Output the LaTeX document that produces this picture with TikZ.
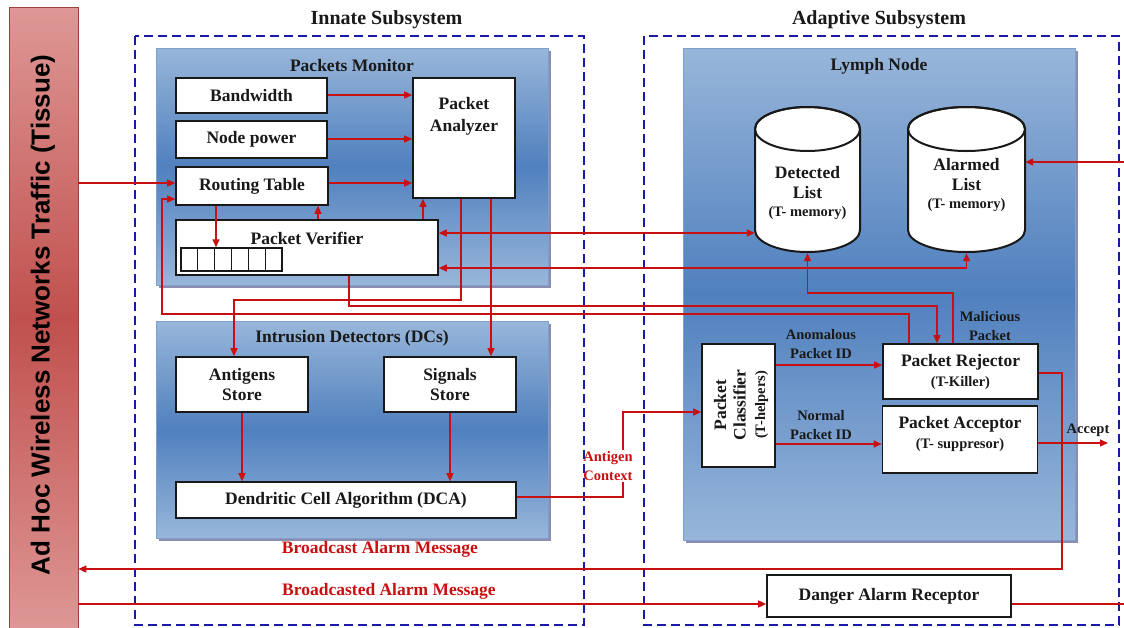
\documentclass[tikz,border=0pt]{standalone}
\usepackage{fontspec}
\setmainfont{Liberation Serif}
\newfontfamily\barfont{Liberation Sans}
\usetikzlibrary{arrows.meta,shadows}
\definecolor{ared}{RGB}{200,16,16}
\definecolor{pl}{RGB}{152,182,218}
\definecolor{pd}{RGB}{80,128,190}
\definecolor{pborder}{RGB}{125,160,205}
\definecolor{dblue}{RGB}{25,25,170}
\definecolor{bl}{RGB}{222,152,150}
\definecolor{bd}{RGB}{192,80,77}
\definecolor{bk}{RGB}{25,25,25}
\newcommand\fsb{\fontsize{17.5}{20}\selectfont\bfseries}
\newcommand\fss{\fontsize{14.5}{19}\selectfont\bfseries}
\newcommand\fst{\fontsize{20}{24}\selectfont\bfseries}
\begin{document}
\begin{tikzpicture}[x=1pt, y=-1pt,
  box/.style={draw=bk, line width=1.6pt, fill=white, inner sep=0pt, align=center, font=\fsb, text=bk},
  txt/.style={inner sep=0pt, align=center, font=\fsb, text=bk},
  small/.style={inner sep=0pt, align=center, font=\fss, text=bk},
  rlab/.style={inner sep=1pt, align=center, text=ared},
  panel/.style={draw=pborder, line width=1pt, top color=pl, bottom color=pl, middle color=pd, inner sep=0pt,
    drop shadow={shadow xshift=2.5pt, shadow yshift=-2.5pt, fill=black!70!blue, opacity=0.45}},
  dashbox/.style={draw=dblue, line width=1.8pt, dash pattern=on 9pt off 5pt},
  wire/.style={draw=ared, line width=1.4pt},
  arr/.style={wire, -{Triangle[length=8pt,width=7pt]}},
  arrb/.style={wire, {Triangle[length=8pt,width=7pt]}-{Triangle[length=8pt,width=7pt]}},
  cylbody/.style={draw=bk, line width=2pt, fill=white}
  ]
\useasboundingbox (0,0) rectangle (1124,627);

% traffic bar
\node[draw=bd!80!black, line width=0.6pt, top color=bl, bottom color=bl, middle color=bd, inner sep=0pt,
  minimum width=69pt, minimum height=625pt] (bar) at (43.5,319.5) {};
\node[rotate=90, inner sep=0pt, font=\fontsize{26}{30}\selectfont\barfont\bfseries, text=black] (bartext) at (43,315) {Ad Hoc Wireless Networks Traffic (Tissue)};

% subsystems
\draw[dashbox] (135,36) rectangle (584,625);
\draw[dashbox] (644,36) rectangle (1119,625);
\node[inner sep=0pt, font=\fst, text=bk] (innate) at (386.5,20) {Innate Subsystem};
\node[inner sep=0pt, font=\fst, text=bk] (adaptive) at (879,20) {Adaptive Subsystem};

% panels
\node[panel, minimum width=392pt, minimum height=237pt] (pm) at (352,166.5) {};
\node[txt] (pmt) at (352,66) {Packets Monitor};
\node[panel, minimum width=392pt, minimum height=217pt] (idp) at (352,429.5) {};
\node[txt] (idpt) at (352,338) {Intrusion Detectors (DCs)};
\node[panel, minimum width=392pt, minimum height=492pt] (ln) at (879,294) {};
\node[txt] (lnt) at (879,66) {Lymph Node};

% packets monitor boxes
\node[box, minimum width=151pt, minimum height=35pt] (bw) at (251.5,95.5) {Bandwidth};
\node[box, minimum width=151pt, minimum height=37pt] (np) at (251.5,139.5) {Node power};
\node[box, minimum width=152pt, minimum height=38pt] (rt) at (252,186) {Routing Table};
\node[box, minimum width=102pt, minimum height=120pt] (pa) at (464,138) {};
\node[txt, font=\fontsize{17.5}{22}\selectfont\bfseries] (pat) at (464,116) {Packet\\Analyzer};
\node[box, minimum width=262pt, minimum height=55pt] (pv) at (307,247.5) {};
\node[txt] (pvt) at (307,238) {Packet Verifier};
\node[draw=bk, line width=1.5pt, fill=white, inner sep=0pt, minimum width=101pt, minimum height=23pt] (q) at (231.5,259.5) {};
\foreach \i in {1,...,5} \draw[bk, line width=1.3pt] ({181+\i*16.83},248) -- ++(0,23);

% intrusion detectors boxes
\node[box, minimum width=132pt, minimum height=55pt] (as) at (242,384.5) {Antigens\\Store};
\node[box, minimum width=132pt, minimum height=55pt] (ss) at (450,384.5) {Signals\\Store};
\node[box, minimum width=340pt, minimum height=36pt] (dca) at (346,500) {Dendritic Cell Algorithm (DCA)};

% cylinders
\filldraw[cylbody] (755,129) -- (755,230) arc[start angle=180, end angle=360, x radius=52.5pt, y radius=22pt]
  -- (860,129) arc[start angle=0, end angle=180, x radius=52.5pt, y radius=22pt] -- cycle;
\draw[cylbody, fill=none] (807.5,129) ellipse [x radius=52.5pt, y radius=22pt];
\node[inner sep=0pt, minimum width=105pt, minimum height=146pt] (dl) at (807.5,180) {};
\node[txt] (dlt) at (807.5,193) {Detected\\List\\[-2pt]{\fss (T- memory)}};

\filldraw[cylbody] (908,129) -- (908,230) arc[start angle=180, end angle=360, x radius=58.5pt, y radius=22pt]
  -- (1025,129) arc[start angle=0, end angle=180, x radius=58.5pt, y radius=22pt] -- cycle;
\draw[cylbody, fill=none] (966.5,129) ellipse [x radius=58.5pt, y radius=22pt];
\node[inner sep=0pt, minimum width=117pt, minimum height=146pt] (al) at (966.5,180) {};
\node[txt] (alt) at (966.5,185) {Alarmed\\List\\[-2pt]{\fss (T- memory)}};

% lymph node boxes
\node[box, minimum width=73pt, minimum height=123pt] (pc) at (738.5,405.5) {};
\node[txt, rotate=90, font=\fontsize{17.5}{19.5}\selectfont\bfseries] (pct) at (741,405) {Packet\\Classifier\\{\fss (T-helpers)}};
\node[box, minimum width=155pt, minimum height=55pt] (rj) at (960.5,371.5) {Packet Rejector\\{\fss (T-Killer)}};
\node[box, minimum width=155pt, minimum height=67pt] (pk) at (960,439.5) {};
\node[txt] (pkt) at (960,433.5) {Packet Acceptor\\{\fss (T- suppresor)}};
\node[box, minimum width=244pt, minimum height=42pt] (dar) at (889,596) {Danger Alarm Receptor};

% labels
\node[small] (anom) at (821,344) {Anomalous\\Packet ID};
\node[small] (norm) at (821,425) {Normal\\Packet ID};
\node[small] (mal) at (990,326) {Malicious\\Packet};
\node[small] (accl) at (1088,430) {Accept};
\node[rlab, font=\fss] (ac) at (608,466) {Antigen\\Context};
\node[rlab, font=\fsb, inner sep=0pt] (bam) at (380,549) {Broadcast Alarm Message};
\node[rlab, font=\fsb, inner sep=0pt] (bdam) at (389,591) {Broadcasted Alarm Message};

\coordinate (outA) at (1124,604);
\coordinate (outB) at (1124,162);
\coordinate (acc) at (1108,443);

% connectors
\draw[arr] (bar.east |- 0,183) -- (rt.west |- 0,183);
\draw[arr] (bw.east |- 0,95) -- (pa.west |- 0,95);
\draw[arr] (np.east |- 0,139) -- (pa.west |- 0,139);
\draw[arr] (rt.east |- 0,183) -- (pa.west |- 0,183);
\draw[arr] (rt.south -| 216,0) -- (q.north -| 216,0);
\draw[arr] (pv.north -| 318,0) -- (rt.south -| 318,0);
\draw[arr] (pv.north -| 423,0) -- (pa.south -| 423,0);
\draw[arrb] (pv.east |- 0,233) -- (dl.west |- 0,233);
\draw[arrb] (pv.east |- 0,268) -| (al.south);
\draw[arr] (rj.north -| 953,0) |- (dl.south |- 0,293) -- (dl.south);
\draw[arr] (pv.south -| 349,0) |- (937,306) -- (rj.north -| 937,0);
\draw[arr] (rj.north -| 909,0) |- (162,314) |- (rt.west |- 0,199);
\draw[arr] (pa.south -| 461,0) |- (234,300) -- (as.north -| 234,0);
\draw[arr] (pa.south -| 491,0) -- (ss.north -| 491,0);
\draw[arr] (as.south) -- (as.south |- dca.north);
\draw[arr] (ss.south) -- (ss.south |- dca.north);
\draw[wire] (dca.east |- 0,497) -| (ac.south -| 623,0);
\draw[arr] (ac.north -| 623,0) |- (pc.west |- 0,412);
\draw[arr] (pc.east |- 0,365) -- (rj.west |- 0,365);
\draw[arr] (pc.east |- 0,444) -- (pk.west |- 0,444);
\draw[arr] (pk.east |- 0,443) -- (acc);
\draw[arr] (rj.east |- 0,373) -| (1062,569) -- (bar.east |- 0,569);
\draw[arr] (bar.east |- 0,604) -- (dar.west |- 0,604);
\draw[wire] (dar.east |- 0,604) -- (outA);
\draw[arr] (outB) -- (al.east |- outB);
\end{tikzpicture}
\end{document}
